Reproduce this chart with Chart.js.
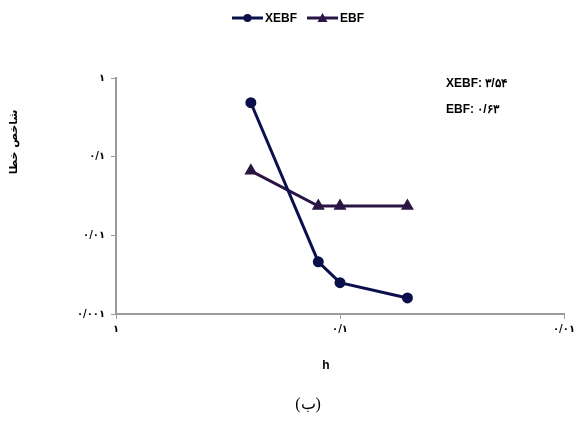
<!DOCTYPE html>
<html>
<head>
<script src="https://cdn.jsdelivr.net/npm/chart.js@4.4.0/dist/chart.umd.min.js"></script>
<style>
  html, body { margin: 0; padding: 0; background: #fff; }
  .chartBox { width: 577px; height: 421px; }
</style>
</head>
<body>
<div class="chartBox">
  <canvas id="myChart" width="577" height="421"></canvas>
</div>
<script>
// step size h (log axis, reversed)
const hValues = [0.25, 0.125, 0.1, 0.05];
// error index for each method
const xebfValues = [0.485, 0.0046, 0.0025, 0.0016];
const ebfValues = [0.066, 0.0236, 0.0236, 0.0236];
const seriesNames = ['XEBF', 'EBF'];
const slopeLabels = ['XEBF: ۳/۵۴', 'EBF: ۰/۶۳'];
// decade ticks and their Persian labels
const yTickValues = [0.001, 0.01, 0.1, 1];
const yTickLabels = ['۰/۰۰۱', '۰/۰۱', '۰/۱', '۱'];
const xTickValues = [0.01, 0.1, 1];
const xTickLabels = ['۰/۰۱', '۰/۱', '۱'];
const xTitle = 'h';
const yTitle = 'شاخص خطا';
const caption = '(ب)';

const colXebf = '#0b0f4c';
const colEbf = '#2b1544';
const axisGray = '#9a9a9a';

function toPoints(xs, ys) {
  return xs.map((x, i) => ({x: x, y: ys[i]}));
}

function decadeTicks(values) {
  return function(scale) {
    scale.ticks = values.map(v => ({value: v}));
  };
}

function labelFor(values, labels) {
  return function(value) {
    const i = values.findIndex(v => Math.abs(v - value) / v < 1e-6);
    return i >= 0 ? labels[i] : '';
  };
}

const extras = {
  id: 'extras',
  afterDraw(chart) {
    const ctx = chart.ctx;
    const area = chart.chartArea;
    ctx.save();
    ctx.fillStyle = '#000';

    // legend: line + marker, then name
    ctx.font = 'bold 12px "Liberation Sans", Arial, sans-serif';
    ctx.textBaseline = 'middle';
    const ly = 18;
    let lx = 232;
    chart.data.datasets.forEach(ds => {
      ctx.strokeStyle = ds.borderColor;
      ctx.lineWidth = 3;
      ctx.beginPath();
      ctx.moveTo(lx, ly);
      ctx.lineTo(lx + 31, ly);
      ctx.stroke();
      ctx.fillStyle = ds.borderColor;
      if (ds.pointStyle === 'triangle') {
        ctx.beginPath();
        ctx.moveTo(lx + 15.5, ly - 5);
        ctx.lineTo(lx + 20.5, ly + 4);
        ctx.lineTo(lx + 10.5, ly + 4);
        ctx.closePath();
        ctx.fill();
      } else {
        ctx.beginPath();
        ctx.arc(lx + 15.5, ly, 4, 0, Math.PI * 2);
        ctx.fill();
      }
      ctx.fillStyle = '#000';
      ctx.textAlign = 'left';
      ctx.fillText(ds.label, lx + 33, ly + 1);
      lx += 33 + ctx.measureText(ds.label).width + 10;
    });

    // slope notes in the upper right
    ctx.font = 'bold 12px "Liberation Sans", Arial, sans-serif';
    ctx.textAlign = 'left';
    ctx.fillText(slopeLabels[0], area.right - 118, area.top + 6);
    ctx.fillText(slopeLabels[1], area.right - 118, area.top + 32);

    // axis titles
    ctx.textAlign = 'center';
    ctx.font = 'bold 12px "Liberation Sans", Arial, sans-serif';
    ctx.fillText(xTitle, (area.left + area.right) / 2 - 14, area.bottom + 52);
    ctx.save();
    ctx.translate(14, area.top + 64);
    ctx.rotate(-Math.PI / 2);
    ctx.font = 'bold 11px "DejaVu Sans", sans-serif';
    ctx.fillText(yTitle, 0, 0);
    ctx.restore();

    // caption
    ctx.font = '16px "Liberation Serif", "DejaVu Serif", serif';
    ctx.fillText(caption, 308, 405);
    ctx.restore();
  }
};

const ctx = document.getElementById('myChart');
const myChart = new Chart(ctx, {
  type: 'line',
  data: {
    datasets: [{
      label: seriesNames[0],
      data: toPoints(hValues, xebfValues),
      borderColor: colXebf,
      backgroundColor: colXebf,
      borderWidth: 3,
      pointStyle: 'circle',
      pointRadius: 4,
      tension: 0
    }, {
      label: seriesNames[1],
      data: toPoints(hValues, ebfValues),
      borderColor: colEbf,
      backgroundColor: colEbf,
      borderWidth: 3,
      pointStyle: 'triangle',
      pointRadius: 4.5,
      tension: 0
    }]
  },
  options: {
    responsive: false,
    animation: false,
    layout: { padding: { left: 0, right: 13, top: 78, bottom: 0 } },
    plugins: {
      legend: { display: false },
      tooltip: { enabled: false }
    },
    scales: {
      x: {
        type: 'logarithmic',
        reverse: true,
        min: 0.01,
        max: 1,
        afterBuildTicks: decadeTicks(xTickValues),
        afterFit(scale) { scale.height = 107; },
        border: { color: axisGray, width: 2 },
        grid: { drawOnChartArea: false, color: axisGray, tickLength: 5, lineWidth: 1 },
        ticks: {
          callback: labelFor(xTickValues, xTickLabels),
          color: '#000',
          font: { family: '"DejaVu Sans", sans-serif', size: 10, weight: 'bold' },
          maxRotation: 0,
          autoSkip: false,
          padding: 4
        }
      },
      y: {
        type: 'logarithmic',
        min: 0.001,
        max: 1,
        afterBuildTicks: decadeTicks(yTickValues),
        afterFit(scale) { scale.width = 116; },
        border: { color: axisGray, width: 2 },
        grid: { drawOnChartArea: false, color: axisGray, tickLength: 5, lineWidth: 1 },
        ticks: {
          callback: labelFor(yTickValues, yTickLabels),
          color: '#000',
          font: { family: '"DejaVu Sans", sans-serif', size: 10, weight: 'bold' },
          autoSkip: false,
          padding: 6
        }
      }
    }
  },
  plugins: [extras]
});
</script>
</body>
</html>
